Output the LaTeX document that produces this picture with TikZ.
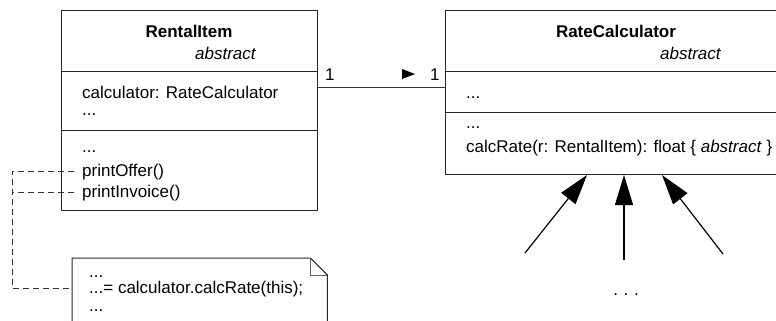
\documentclass[tikz,border=0pt]{standalone}
\usepackage{fontspec}
\setmainfont{Liberation Sans}
\usetikzlibrary{arrows.meta,calc}
\begin{document}
\begin{tikzpicture}[x=1bp,y=-1bp,
  txt/.style={font=\fontsize{17bp}{20bp}\selectfont, inner sep=0pt, anchor=base west},
  classbox/.style={draw=black!85, line width=1bp, anchor=north west, inner sep=0pt},
  rule/.style={draw=black!85, line width=1bp},
  link/.style={draw=black!80, line width=1bp},
  notelink/.style={draw=black!80, line width=0.9bp, dash pattern=on 6bp off 4bp},
  gen/.style={draw=black, line width=1.2bp, -{Triangle[length=30bp,width=18bp]}}]
\clip (0,0) rectangle (776,320);

% ---- class RentalItem ----
\node[classbox, minimum width=256bp, minimum height=200bp] (rental) at (61,10) {};
\draw[rule] (61,71) -- (317,71);
\draw[rule] (61,130) -- (317,130);
\node[txt, anchor=base] (rname) at (189,37) {\bfseries RentalItem};
\node[txt] (rabs) at (195,59) {\itshape abstract};
\node[txt] (rattr) at (82,98) {calculator: RateCalculator};
\node[txt] (rattr2) at (82,115) {...};
\node[txt] (rop0) at (82,152) {...};
\node[txt] (roffer) at (82,176) {printOffer()};
\node[txt] (rinvoice) at (82,197) {printInvoice()};

% ---- class RateCalculator ----
\node[classbox, minimum width=345bp, minimum height=164bp] (calc) at (445,10) {};
\draw[rule] (445,71) -- (790,71);
\draw[rule] (445,112) -- (790,112);
\node[txt, anchor=base] (cname) at (616,37) {\bfseries RateCalculator};
\node[txt] (cabs) at (660,59) {\itshape abstract};
\node[txt] (cattr) at (466,98) {...};
\node[txt] (cop0) at (466,128) {...};
\node[txt] (cop) at (466,152) {calcRate(r: RentalItem): float \{ \textit{abstract} \}};

% ---- association ----
\coordinate (assocY) at (0,87);
\draw[link] (rental.east |- assocY) -- (calc.west |- assocY);
\node[txt] (m1) at (325,80) {1};
\node[txt] (m2) at (430,80) {1};
\fill[black] (402,69) -- (415,74) -- (402,79) -- cycle;

% ---- note ----
\node[anchor=north west, minimum width=255bp, minimum height=80bp, inner sep=0pt] (note) at (72,258) {};
\draw[rule] ($(note.north west)+(0,80)$) -- (note.north west) -- ($(note.north east)+(-17,0)$)
  -- ($(note.north east)+(0,17)$) -- ($(note.north east)+(0,80)$);
\draw[rule, draw=black!60] ($(note.north east)+(-17,0)$) |- ($(note.north east)+(0,17)$);
\node[txt] (n1) at (89,277) {...};
\node[txt] (n2) at (89,293) {...= calculator.calcRate(this);};
\node[txt] (n3) at (89,311) {...};

% ---- links from the operations to the note ----
\coordinate (bendTop) at (12,171);
\coordinate (bendMid) at (12,192);
\coordinate (bendBot) at (12,288);
\draw[notelink] ($(roffer.west |- bendTop)+(-8,0)$) -- (bendTop) -- (bendBot) -- (note.west |- bendBot);
\draw[notelink] ($(rinvoice.west |- bendMid)+(-8,0)$) -- (bendMid);

% ---- subclasses ----
\coordinate (s1) at (525,253);
\coordinate (s2) at (624,260);
\coordinate (s3) at (723,254);
\draw[gen] (s1) -- (calc.south west -| 587,0);
\draw[gen] (s2) -- (calc.south west -| 624,0);
\draw[gen] (s3) -- (calc.south west -| 662,0);
\node[txt, anchor=base] (more) at (626,295) {.\,\,.\,\,.};
\end{tikzpicture}
\end{document}
